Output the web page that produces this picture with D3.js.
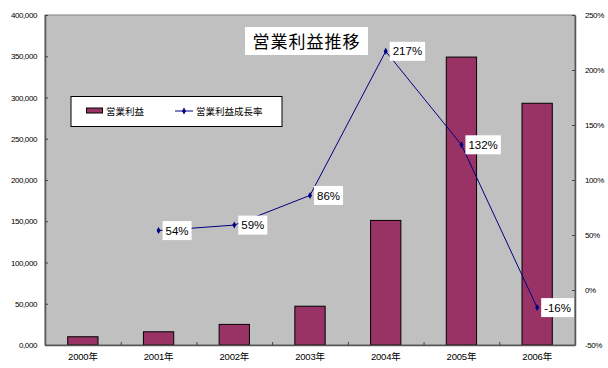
<!DOCTYPE html>
<html><head><meta charset="utf-8">
<script src="https://cdn.jsdelivr.net/npm/d3@7"></script>
<style>body{margin:0;background:#fff}svg{display:block}</style>
</head><body><svg id="c" width="608" height="368"></svg>
<script>
const categories = ["2000年","2001年","2002年","2003年","2004年","2005年","2006年"];
const profit = [10000,16000,25000,47000,151000,349000,293000];
const growthYears = ["2001年","2002年","2003年","2004年","2005年","2006年"];
const growth = [54,59,86,217,132,-16];
const leftTicks = [0,50000,100000,150000,200000,250000,300000,350000,400000];
const rightTicks = [-50,0,50,100,150,200,250];
const title = "営業利益推移";
const seriesNames = ["営業利益","営業利益成長率"];

const svg = d3.select("#c");
const m = {l:45, r:575, t:15, b:345};
const x = d3.scaleBand().domain(categories).range([m.l,m.r]).paddingInner(0).paddingOuter(0);
const bw = x.bandwidth()/2.5;
const yL = d3.scaleLinear().domain([0,400000]).range([m.b,m.t]);
const yR = d3.scaleLinear().domain([-50,250]).range([m.b,m.t]);
const font = "Arial, 'Liberation Sans', 'Noto Sans CJK JP', sans-serif";

svg.append("rect").attr("x",m.l).attr("y",m.t).attr("width",m.r-m.l).attr("height",m.b-m.t)
  .attr("fill","#c0c0c0").attr("stroke","#808080").attr("stroke-width",1);

// bars
svg.append("g").selectAll("rect").data(profit).join("rect")
  .attr("x",(d,i)=>x(categories[i])+x.bandwidth()/2-bw/2)
  .attr("y",d=>yL(d)).attr("width",bw).attr("height",d=>yL(0)-yL(d))
  .attr("fill","#993366").attr("stroke","#000").attr("stroke-width",1);

// axes
const axL = d3.axisLeft(yL).tickValues(leftTicks).tickSizeInner(-3).tickSizeOuter(0).tickPadding(8)
  .tickFormat(d=> d===0 ? "0,000" : d3.format(",")(d));
const gL = svg.append("g").attr("transform",`translate(${m.l},0)`).call(axL);
const axR = d3.axisRight(yR).tickValues(rightTicks).tickSizeInner(-3).tickSizeOuter(0).tickPadding(10)
  .tickFormat(d=>d+"%");
const gR = svg.append("g").attr("transform",`translate(${m.r},0)`).call(axR);
const axB = d3.axisBottom(x).tickSize(0).tickPadding(8);
const gB = svg.append("g").attr("transform",`translate(0,${m.b})`).call(axB);
// category boundary ticks
svg.append("g").selectAll("line").data(categories.slice(1)).join("line")
  .attr("x1",d=>x(d)+0.5).attr("x2",d=>x(d)+0.5).attr("y1",m.b).attr("y2",m.b-3)
  .attr("stroke","#444");
[gL,gR,gB].forEach(g=>{
  g.select(".domain").attr("stroke","#555").attr("stroke-width",1.5);
  g.selectAll(".tick line").attr("stroke","#444");
  g.selectAll("text").attr("font-family",font).attr("fill","#000");
});
gL.selectAll("text").attr("font-size",8).attr("letter-spacing","-0.4px");
gR.selectAll("text").attr("font-size",8).attr("letter-spacing","-0.4px");
gB.selectAll("text").attr("font-size",9.5).attr("letter-spacing","-0.2px");

// line
const cx = d=>x(d)+x.bandwidth()/2;
const line = d3.line().x((d,i)=>cx(growthYears[i])).y(d=>yR(d));
svg.append("path").datum(growth).attr("d",line).attr("fill","none").attr("stroke","#000080").attr("stroke-width",1);
svg.append("g").selectAll("path").data(growth).join("path")
  .attr("transform",(d,i)=>`translate(${cx(growthYears[i])},${yR(d)})`)
  .attr("d",d3.symbol(d3.symbolDiamond,14)).attr("fill","#000080");

// data labels
const lg = svg.append("g").selectAll("g").data(growth).join("g")
  .attr("transform",(d,i)=>`translate(${cx(growthYears[i])+4},${yR(d)})`);
lg.append("text").text(d=>d+"%").attr("x",3).attr("dy","0.36em")
  .attr("font-family",font).attr("font-size",11.5).attr("fill","#000");
lg.each(function(){
  const g=d3.select(this); const bb=g.select("text").node().getBBox();
  g.insert("rect","text").attr("x",0).attr("y",-9.5).attr("width",bb.width+6).attr("height",19).attr("fill","#fff");
});

// title
const tg = svg.append("g");
tg.append("rect").attr("x",245).attr("y",27).attr("width",123).attr("height",28).attr("fill","#fff");
tg.append("text").attr("x",306.5).attr("y",47.5).attr("text-anchor","middle")
  .attr("font-family","'Noto Sans CJK JP', sans-serif").attr("font-size",17).attr("letter-spacing","1px").text(title);

// legend
const lgd = svg.append("g");
lgd.append("rect").attr("x",71).attr("y",96.5).attr("width",211).attr("height",30).attr("fill","#fff").attr("stroke","#000").attr("stroke-width",1);
lgd.append("rect").attr("x",86.5).attr("y",108).attr("width",16).attr("height",5).attr("fill","#993366").attr("stroke","#000").attr("stroke-width",1);
lgd.append("text").attr("x",106).attr("y",114.5).attr("font-family","'Noto Sans CJK JP', sans-serif").attr("font-size",9.5).text(seriesNames[0]);
lgd.append("line").attr("x1",175).attr("x2",193).attr("y1",111).attr("y2",111).attr("stroke","#000080");
lgd.append("path").attr("transform","translate(184,111)").attr("d",d3.symbol(d3.symbolDiamond,14)).attr("fill","#000080");
lgd.append("text").attr("x",196).attr("y",114.5).attr("font-family","'Noto Sans CJK JP', sans-serif").attr("font-size",9.5).text(seriesNames[1]);
</script></body></html>
